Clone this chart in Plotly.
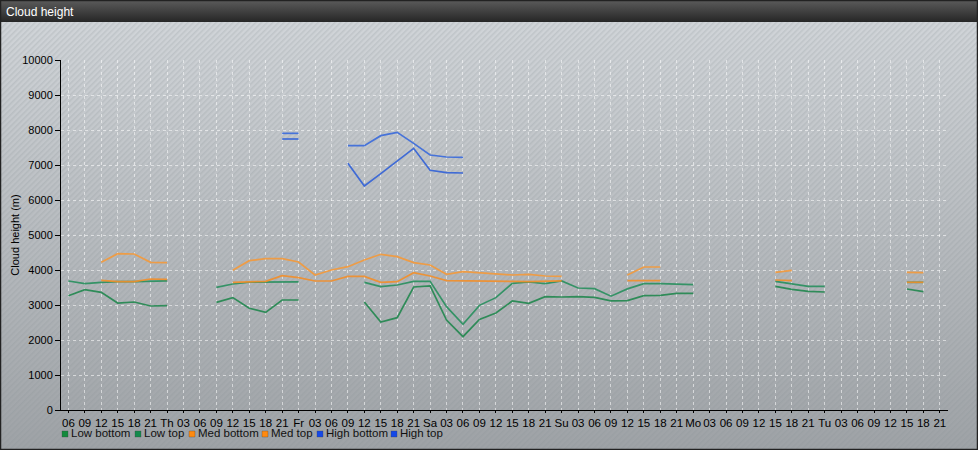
import base64
import plotly.graph_objects as go

# ---------------- data ----------------
tick_labels = ["06", "09", "12", "15", "18", "21", "Th", "03", "06", "09", "12", "15", "18", "21",
               "Fr", "03", "06", "09", "12", "15", "18", "21",
               "Sa", "03", "06", "09", "12", "15", "18", "21",
               "Su", "03", "06", "09", "12", "15", "18", "21",
               "Mo", "03", "06", "09", "12", "15", "18", "21",
               "Tu", "03", "06", "09", "12", "15", "18", "21"]
y_ticks = [0, 1000, 2000, 3000, 4000, 5000, 6000, 7000, 8000, 9000, 10000]
y_tick_labels = ["0", "1000", "2000", "3000", "4000", "5000", "6000", "7000", "8000", "9000", "10000"]
N = None
low_bottom = [3266, 3437, 3362, 3057, 3086, 2971, 2981, N, N, 3076, 3210, 2905, 2790, 3143, 3143,
              N, N, N, 3086, 2514, 2638, 3514, 3543, 2571, 2095, 2590, 2771, 3114, 3048, 3238,
              3229, 3238, 3219, 3119, 3124, 3267, 3276, 3333, 3333, N, N, N, N, 3533, 3448, 3390,
              3371, N, N, N, N, 3457, 3381, N]
low_top = [3686, 3610, 3648, 3670, 3670, 3690, 3690, N, N, 3505, 3600, 3650, 3660, 3660, 3660,
           N, N, N, 3648, 3524, 3571, 3676, 3676, 2952, 2448, 2990, 3210, 3619, 3657, 3610,
           3686, 3486, 3467, 3252, 3460, 3610, 3610, 3590, 3581, N, N, N, N, 3676, 3600, 3533,
           3533, N, N, N, N, 3648, 3648, N]
med_bottom = [N, N, 3705, 3667, 3667, 3743, 3733, N, N, N, 3648, 3667, 3676, 3838, 3781,
              3686, 3686, 3819, 3819, 3648, 3667, 3924, 3829, 3695, 3695, 3686, 3676, 3676, 3667, 3686,
              3690, N, N, N, 3695, 3695, 3695, N, N, N, N, N, N, 3714, 3695, N,
              N, N, N, N, N, 3648, 3648, N]
med_top = [N, N, 4219, 4467, 4457, 4219, 4210, N, N, N, 3990, 4267, 4324, 4324, 4229,
           3857, 4000, 4095, 4286, 4448, 4381, 4210, 4143, 3876, 3952, 3924, 3876, 3857, 3876, 3829,
           3819, N, N, N, 3857, 4086, 4086, N, N, N, N, N, N, 3933, 3990, N,
           N, N, N, N, N, 3933, 3924, N]
high_bottom = [N] * 13 + [7743, 7743, N, N, 7048, 6400, 6752, 7114, 7476, 6848, 6781, 6771] + [N] * 29
high_top = [N] * 13 + [7905, 7905, N, N, 7552, 7552, 7838, 7933, 7619, 7286, 7229, 7219] + [N] * 29

series_names = ["Low bottom", "Low top", "Med bottom", "Med top", "High bottom", "High top"]
series_values = [low_bottom, low_top, med_bottom, med_top, high_bottom, high_top]
line_colors = ["#22884f", "#28905e", "#f38f2a", "#f59a3a", "#3262d8", "#3a6bdc"]
legend_colors = ["#138a3c", "#138a4c", "#ff8a10", "#ff8a10", "#1448e8", "#1448e8"]

x_idx = list(range(len(tick_labels)))

# ---------------- background image (gradient + stripes + title bar) ----------------
W, H = 978, 450
svg = f'''<svg xmlns="http://www.w3.org/2000/svg" width="{W}" height="{H}" viewBox="0 0 {W} {H}">
<defs>
<linearGradient id="bg" x1="0" y1="0" x2="0" y2="1">
<stop offset="0" stop-color="#d3d7db"/><stop offset="1" stop-color="#9ea2a6"/></linearGradient>
<linearGradient id="tb" x1="0" y1="0" x2="0" y2="1">
<stop offset="0" stop-color="#5c5c5c"/><stop offset="1" stop-color="#262626"/></linearGradient>
<pattern id="st" width="4" height="4" patternUnits="userSpaceOnUse" patternTransform="rotate(45)">
<rect width="1.6" height="4" fill="#8a9098" fill-opacity="0.22"/></pattern>
</defs>
<rect width="{W}" height="{H}" fill="url(#bg)"/>
<rect width="{W}" height="{H}" fill="url(#st)"/>
<rect width="{W}" height="22" fill="url(#tb)"/>
<rect x="0.5" y="0.5" width="{W-1}" height="{H-1}" fill="none" stroke="#222" stroke-width="1.5"/>
</svg>'''
svg_uri = "data:image/svg+xml;base64," + base64.b64encode(svg.encode()).decode()

ML, MR, MT, MB = 61, 30, 60, 40
pw = W - ML - MR
ph = H - MT - MB

def px_to_paper_x(px):
    return (px - ML) / pw

def px_to_paper_y(py):
    return (H - MB - py) / ph

fig = go.Figure()
for name, vals, col in zip(series_names, series_values, line_colors):
    fig.add_trace(go.Scatter(x=x_idx, y=vals, mode="lines", name=name,
                             line=dict(color=col, width=1.7), opacity=0.9,
                             connectgaps=False, showlegend=False))

# manual legend (text kept as real text)
legend_x = [62, 135, 189, 262, 317, 391]
shapes = []
annotations = []
for name, col, lx in zip(series_names, legend_colors, legend_x):
    shapes.append(dict(type="rect", xref="paper", yref="paper",
                       x0=px_to_paper_x(lx), x1=px_to_paper_x(lx + 6),
                       y0=px_to_paper_y(437), y1=px_to_paper_y(431),
                       fillcolor=col, line=dict(color="rgba(60,60,60,0.6)", width=0.5)))
    annotations.append(dict(text=name, xref="paper", yref="paper",
                            x=px_to_paper_x(lx + 7), y=px_to_paper_y(433),
                            xanchor="left", yanchor="middle", showarrow=False,
                            font=dict(family="Liberation Sans, Arial", size=11.5, color="#111")))

annotations.append(dict(text="Cloud height", xref="paper", yref="paper",
                        x=px_to_paper_x(4), y=px_to_paper_y(11.5),
                        xanchor="left", yanchor="middle", showarrow=False,
                        font=dict(family="Liberation Sans, Arial", size=12, color="#ffffff")))

fig.update_layout(
    width=W, height=H,
    margin=dict(l=ML, r=MR, t=MT, b=MB, pad=0, autoexpand=False),
    paper_bgcolor="#b8bcc0",
    plot_bgcolor="rgba(255,255,255,0.12)",
    font=dict(family="Liberation Sans, Arial", size=11, color="#000"),
    showlegend=False,
    images=[dict(source=svg_uri, xref="paper", yref="paper",
                 x=px_to_paper_x(0), y=px_to_paper_y(0),
                 sizex=W / pw, sizey=H / ph, sizing="stretch",
                 xanchor="left", yanchor="top", layer="below")],
    shapes=shapes,
    annotations=annotations,
)
fig.update_xaxes(range=[-0.45, 53.5], tickmode="array", tickvals=x_idx, ticktext=tick_labels,
                 tickangle=0, showline=True, linecolor="#000", linewidth=1,
                 ticks="outside", ticklen=2, tickcolor="#000", automargin=False,
                 showgrid=True, gridcolor="rgba(255,255,255,0.55)", griddash="3px,3px", gridwidth=1,
                 zeroline=False, tickfont=dict(size=11.5, color="#000"), fixedrange=True)
fig.update_yaxes(range=[0, 10000], tickmode="array", tickvals=y_ticks, ticktext=y_tick_labels,
                 showline=True, linecolor="#000", linewidth=1,
                 ticks="outside", ticklen=5, tickcolor="#000", automargin=False,
                 showgrid=True, gridcolor="rgba(255,255,255,0.55)", griddash="3px,3px", gridwidth=1,
                 zeroline=False, tickfont=dict(size=11, color="#000"),
                 title=dict(text="Cloud height (m)", font=dict(size=11, color="#000"), standoff=0),
                 fixedrange=True)

fig.write_html("out.html", config={"displayModeBar": False},
               post_script="document.body.style.margin='0';document.body.style.overflow='hidden';")
